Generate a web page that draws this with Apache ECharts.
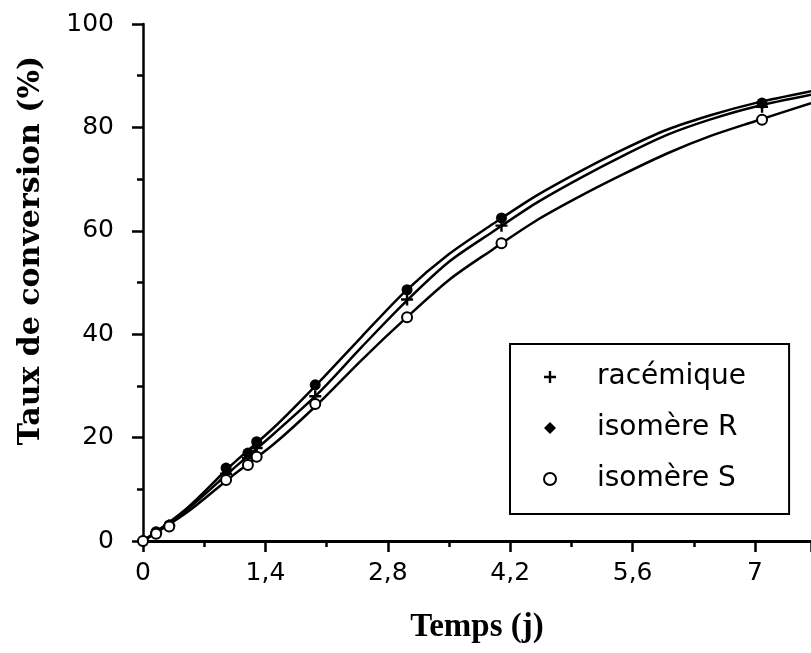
<!DOCTYPE html>
<html>
<head>
<meta charset="utf-8">
<script src="https://cdn.jsdelivr.net/npm/echarts@6/dist/echarts.min.js"></script>
<style>
  html, body { margin: 0; padding: 0; background: #fff; }
  #chart { width: 811px; height: 653px; }
</style>
</head>
<body>
<div id="chart"></div>
<script>
// measured points (time in days, conversion in %)
const times = [0, 0.15, 0.3, 0.95, 1.2, 1.3, 1.97, 3.02, 4.1, 7.08];
const racemique = [0, 1.6, 3.0, 13.0, 16.0, 18.0, 28.0, 46.7, 61.0, 84.0];
const isomereR = [0, 1.8, 3.1, 14.1, 17.0, 19.2, 30.2, 48.6, 62.5, 84.7];
const isomereS = [0, 1.4, 2.8, 11.8, 14.7, 16.3, 26.5, 43.3, 57.6, 81.5];

// fitted curves
const curveTimes = [0, 0.5, 1.0, 1.5, 2.0, 2.5, 3.0, 3.5, 4.0, 4.5, 5.0, 5.5, 6.0, 6.5, 7.0, 7.64];
const curveRac = [0, 6.0, 13.5, 20.8, 28.5, 37.5, 46.2, 54.0, 59.8, 65.4, 70.2, 74.6, 78.6, 81.6, 84.0, 86.3];
const curveR = [0, 6.3, 14.5, 22.0, 30.5, 39.5, 48.3, 55.5, 61.3, 66.8, 71.5, 75.8, 79.6, 82.4, 84.7, 87.0];
const curveS = [0, 5.5, 12.3, 18.8, 26.5, 35.0, 43.0, 50.5, 56.4, 62.0, 66.7, 71.0, 75.0, 78.4, 81.2, 84.7];

const xTickStep = 1.4;
const xMax = 7.64;
const yTicks = [0, 20, 40, 60, 80, 100];

const zip = (xs, ys) => xs.map((x, i) => [x, ys[i]]);
const plus = "path://M4,0H6V4H10V6H6V10H4V6H0V4H4Z";

const chart = echarts.init(document.getElementById("chart"));

const lineStyle = { color: "#000", width: 2.5 };
const curve = (name, data) => ({
  name: name,
  type: "line",
  data: zip(curveTimes, data),
  smooth: 0.3,
  showSymbol: false,
  symbol: "none",
  lineStyle: lineStyle,
  z: 2,
});

chart.setOption({
  animation: false,
  backgroundColor: "#fff",
  grid: { left: 143, right: 0, top: 24, bottom: 112 },
  legend: {
    orient: "vertical",
    left: 510,
    top: 344,
    data: [
      { name: "racémique", icon: plus },
      { name: "isomère R", icon: "diamond" },
      { name: "isomère S", icon: "emptyCircle" },
    ],
    itemWidth: 12,
    itemHeight: 12,
    itemGap: 21,
    padding: [18, 43, 20, 33],
    borderColor: "#000",
    borderWidth: 2,
    selectedMode: false,
    textStyle: {
      fontFamily: "DejaVu Sans",
      fontSize: 28,
      color: "#000",
      lineHeight: 30,
      padding: [0, 0, 0, 36],
    },
  },
  xAxis: [
    {
      type: "value",
      min: 0,
      max: xMax,
      interval: xTickStep,
      name: "Temps (j)",
      nameLocation: "middle",
      nameGap: 70,
      nameTextStyle: {
        fontFamily: "Liberation Serif",
        fontWeight: "bold",
        fontSize: 33,
        color: "#000",
      },
      axisLine: { onZero: false, lineStyle: { color: "#000", width: 2.5 } },
      axisTick: { length: 11, lineStyle: { color: "#000", width: 2.5 } },
      minorTick: { show: true, splitNumber: 2, length: 6, lineStyle: { color: "#000", width: 2.5 } },
      splitLine: { show: false },
      axisLabel: {
        showMaxLabel: false,
        margin: 20,
        fontFamily: "DejaVu Sans",
        fontSize: 25,
        color: "#000",
        formatter: (v) => String(Math.round(v * 10) / 10).replace(".", ","),
      },
    },
    {
      type: "value",
      position: "top",
      min: 0,
      max: xMax,
      axisLine: { show: true, lineStyle: { color: "#000", width: 3 } },
      axisTick: { show: false },
      axisLabel: { show: false },
      splitLine: { show: false },
    },
  ],
  yAxis: {
    type: "value",
    min: yTicks[0],
    max: yTicks[yTicks.length - 1],
    interval: yTicks[1] - yTicks[0],
    name: "Taux de conversion (%)",
    nameLocation: "middle",
    nameGap: 97,
    nameTextStyle: {
      fontFamily: "DejaVu Serif",
      fontWeight: "bold",
      fontSize: 30,
      color: "#000",
      padding: [0, 0, 0, 64],
    },
    axisLine: { onZero: false, lineStyle: { color: "#000", width: 2.5 } },
    axisTick: { length: 11, lineStyle: { color: "#000", width: 2.5 } },
    minorTick: { show: true, splitNumber: 2, length: 6, lineStyle: { color: "#000", width: 2.5 } },
    splitLine: { show: false },
    axisLabel: {
      margin: 29,
      fontFamily: "DejaVu Sans",
      fontSize: 25,
      color: "#000",
    },
  },
  series: [
    curve("courbe racémique", curveRac),
    curve("courbe R", curveR),
    curve("courbe S", curveS),
    {
      name: "racémique",
      type: "scatter",
      data: zip(times, racemique),
      symbol: plus,
      symbolSize: 12,
      itemStyle: { color: "#000", opacity: 1 },
      z: 3,
    },
    {
      name: "isomère R",
      type: "scatter",
      data: zip(times, isomereR),
      symbol: "circle",
      symbolSize: 11,
      itemStyle: { color: "#000", opacity: 1 },
      z: 3,
    },
    {
      name: "isomère S",
      type: "scatter",
      data: zip(times, isomereS),
      symbol: "emptyCircle",
      symbolSize: 10,
      itemStyle: { color: "#000", borderWidth: 2, opacity: 1 },
      z: 3,
    },
  ],
});
</script>
</body>
</html>
